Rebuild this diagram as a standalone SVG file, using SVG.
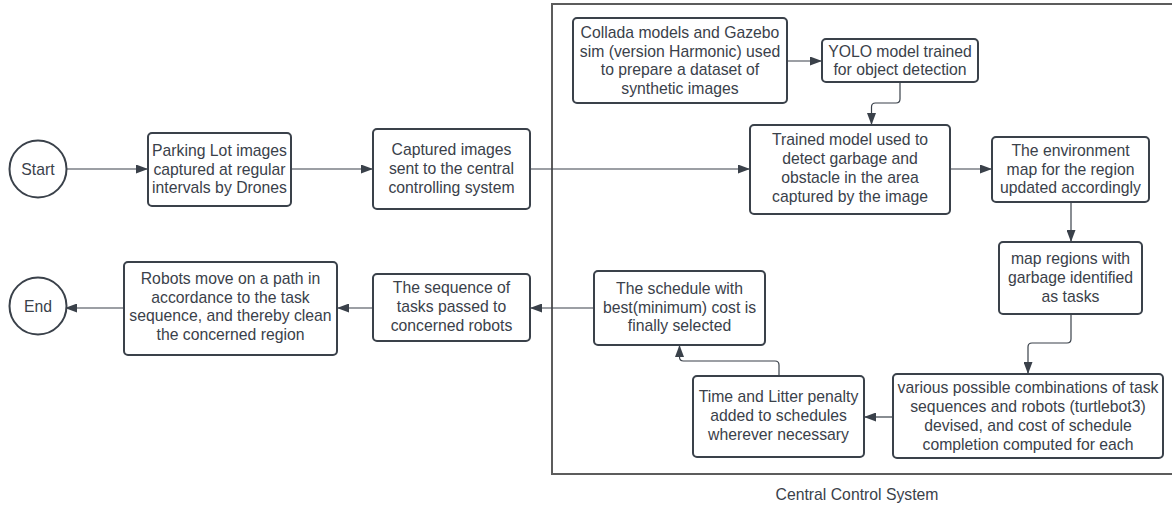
<svg xmlns="http://www.w3.org/2000/svg" width="1172" height="507" viewBox="0 0 1172 507">
<style>
  .box { fill: #ffffff; stroke: #3a414a; stroke-width: 2; }
  .t { font-family: "Liberation Sans", Arial, sans-serif; font-size: 15.75px; fill: #3a414a; text-anchor: middle; }
  .c { fill: none; stroke: #3a414a; stroke-width: 1.2; }
  .frame { fill: none; stroke: #5c5c5c; stroke-width: 2; }
</style>
<defs>
  <marker id="ah" markerUnits="userSpaceOnUse" markerWidth="12" markerHeight="9" refX="12" refY="4.5" orient="auto">
    <path d="M0,0 L12,4.5 L0,9 z" fill="#3a414a"/>
  </marker>
</defs>
<rect width="1172" height="507" fill="#ffffff"/>

<g id="container">
  <path class="frame" d="M1180,4 H552 V474 H1180"/>
  <text class="t" x="857" y="499.5">Central Control System</text>
</g>

<g id="connectors">
  <path class="c" d="M67,169 H148" marker-end="url(#ah)"/>
  <path class="c" d="M291,169 H373" marker-end="url(#ah)"/>
  <path class="c" d="M530,169 H750" marker-end="url(#ah)"/>
  <path class="c" d="M787,61 H822" marker-end="url(#ah)"/>
  <path class="c" d="M900,82 V99 Q900,103 896,103 H875.5 Q871.5,103 871.5,107 V125" marker-end="url(#ah)"/>
  <path class="c" d="M950,169 H992" marker-end="url(#ah)"/>
  <path class="c" d="M1071,202 V242" marker-end="url(#ah)"/>
  <path class="c" d="M1071,314 V339 Q1071,343 1067,343 H1032 Q1028,343 1028,347 V374" marker-end="url(#ah)"/>
  <path class="c" d="M893,417 H864" marker-end="url(#ah)"/>
  <path class="c" d="M779,376 V365 Q779,361 775,361 H683.5 Q679.5,361 679.5,357 V345" marker-end="url(#ah)"/>
  <path class="c" d="M594,308 H530" marker-end="url(#ah)"/>
  <path class="c" d="M373,308 H337" marker-end="url(#ah)"/>
  <path class="c" d="M124,308 H65" marker-end="url(#ah)"/>
</g>

<g id="start">
  <circle class="box" cx="38" cy="169" r="28.5"/>
  <text class="t" x="38" y="174.5">Start</text>
</g>

<g id="parking">
  <rect class="box" x="148" y="133" width="143" height="73" rx="4"/>
  <text class="t" x="219.5" y="155.6">Parking Lot images</text>
  <text class="t" x="219.5" y="174.5">captured at regular</text>
  <text class="t" x="219.5" y="193.4">intervals by Drones</text>
</g>

<g id="captured">
  <rect class="box" x="373" y="129" width="157" height="80" rx="4"/>
  <text class="t" x="451.5" y="155.1">Captured images</text>
  <text class="t" x="451.5" y="174">sent to the central</text>
  <text class="t" x="451.5" y="192.9">controlling system</text>
</g>

<g id="collada">
  <rect class="box" x="573" y="18" width="214" height="85" rx="4"/>
  <text class="t" x="680" y="37.6">Collada models and Gazebo</text>
  <text class="t" x="680" y="56.5">sim (version Harmonic) used</text>
  <text class="t" x="680" y="75.4">to prepare a dataset of</text>
  <text class="t" x="680" y="94.3">synthetic images</text>
</g>

<g id="yolo">
  <rect class="box" x="822" y="39" width="156" height="43" rx="4"/>
  <text class="t" x="900" y="56.5">YOLO model trained</text>
  <text class="t" x="900" y="75.4">for object detection</text>
</g>

<g id="trained">
  <rect class="box" x="750" y="125" width="200" height="89" rx="4"/>
  <text class="t" x="850" y="145.2">Trained model used to</text>
  <text class="t" x="850" y="164.1">detect garbage and</text>
  <text class="t" x="850" y="183">obstacle in the area</text>
  <text class="t" x="850" y="201.9">captured by the image</text>
</g>

<g id="environment">
  <rect class="box" x="992" y="137" width="157" height="65" rx="4"/>
  <text class="t" x="1070.5" y="155.6">The environment</text>
  <text class="t" x="1070.5" y="174.5">map for the region</text>
  <text class="t" x="1070.5" y="193.4">updated accordingly</text>
</g>

<g id="mapregions">
  <rect class="box" x="999" y="242" width="143" height="72" rx="4"/>
  <text class="t" x="1070.5" y="264.1">map regions with</text>
  <text class="t" x="1070.5" y="283">garbage identified</text>
  <text class="t" x="1070.5" y="301.9">as tasks</text>
</g>

<g id="combinations">
  <rect class="box" x="893" y="374" width="270" height="84" rx="4"/>
  <text class="t" x="1028" y="392.9">various possible combinations of task</text>
  <text class="t" x="1028" y="411.8">sequences and robots (turtlebot3)</text>
  <text class="t" x="1028" y="430.7">devised, and cost of schedule</text>
  <text class="t" x="1028" y="449.6">completion computed for each</text>
</g>

<g id="penalty">
  <rect class="box" x="693" y="376" width="171" height="81" rx="4"/>
  <text class="t" x="778.5" y="402.1">Time and Litter penalty</text>
  <text class="t" x="778.5" y="421">added to schedules</text>
  <text class="t" x="778.5" y="439.9">wherever necessary</text>
</g>

<g id="schedule">
  <rect class="box" x="594" y="271" width="171" height="74" rx="4"/>
  <text class="t" x="679.5" y="293.6">The schedule with</text>
  <text class="t" x="679.5" y="312.5">best(minimum) cost is</text>
  <text class="t" x="679.5" y="331.4">finally selected</text>
</g>

<g id="sequence">
  <rect class="box" x="373" y="274" width="157" height="67" rx="4"/>
  <text class="t" x="451.5" y="293.1">The sequence of</text>
  <text class="t" x="451.5" y="312">tasks passed to</text>
  <text class="t" x="451.5" y="330.9">concerned robots</text>
</g>

<g id="robots">
  <rect class="box" x="124" y="262" width="213" height="93" rx="4"/>
  <text class="t" x="230.5" y="283.6">Robots move on a path in</text>
  <text class="t" x="230.5" y="302.5">accordance to the task</text>
  <text class="t" x="230.5" y="321.4">sequence, and thereby clean</text>
  <text class="t" x="230.5" y="340.3">the concerned region</text>
</g>

<g id="end">
  <circle class="box" cx="38" cy="306" r="28.5"/>
  <text class="t" x="38" y="311.5">End</text>
</g>
</svg>
